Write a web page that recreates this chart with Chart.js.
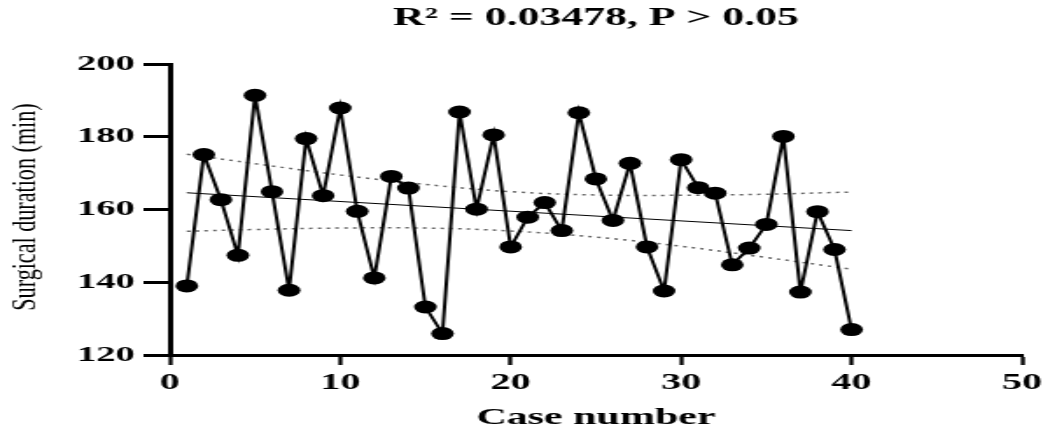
<!DOCTYPE html>
<html lang="en">
<head>
  <meta charset="UTF-8">
  <title>Surgical duration by case number</title>
  <script src="https://cdn.jsdelivr.net/npm/chart.js"></script>
  <style>
    html, body {
      margin: 0;
      padding: 0;
      background: #fff;
      overflow: hidden;
    }
    /* the source figure is stretched sideways, so draw it narrow and widen it */
    #wrap {
      width: 596px;
      height: 432px;
      transform: scaleX(1.75);
      transform-origin: 0 0;
    }
  </style>
</head>
<body>

  <div id="wrap"><canvas id="chart"></canvas></div>

  <script>
    // values
    const caseNo = [1, 2, 3, 4, 5, 6, 7, 8, 9, 10, 11, 12, 13, 14, 15, 16, 17, 18, 19, 20,
                    21, 22, 23, 24, 25, 26, 27, 28, 29, 30, 31, 32, 33, 34, 35, 36, 37, 38, 39, 40];
    const duration = [139.0, 175.1, 162.7, 147.4, 191.4, 164.9, 137.8, 179.5, 163.8, 187.9,
                      159.5, 141.2, 169.1, 165.9, 133.2, 125.9, 186.8, 160.1, 180.5, 149.7,
                      157.9, 161.9, 154.2, 186.6, 168.4, 157.0, 172.7, 149.7, 137.6, 173.7,
                      166.0, 164.5, 144.8, 149.4, 155.9, 180.1, 137.3, 159.4, 149.0, 127.0];

    // fitted line and its 95% band
    const fitX = [1, 40];
    const fitY = [164.6, 154.2];
    const bandX = [1, 5, 10, 15, 20, 25, 30, 35, 40];
    const bandUpper = [175.2, 172.6, 169.5, 166.9, 164.9, 164.0, 163.9, 164.2, 164.8];
    const bandLower = [154.0, 154.5, 154.9, 154.9, 154.1, 152.4, 149.9, 146.8, 143.6];

    const xTicks = [0, 10, 20, 30, 40, 50];
    const yTicks = [120, 140, 160, 180, 200];

    const serif = '"Liberation Serif", "Times New Roman", serif';

    function pairs(xs, ys) {
      return xs.map((x, i) => ({ x: x, y: ys[i] }));
    }

    // y axis title, tall and narrow like in the figure
    const yTitle = {
      id: 'yTitle',
      afterDraw(chart) {
        const ctx = chart.ctx;
        ctx.save();
        ctx.translate(15, 207);
        ctx.rotate(-Math.PI / 2);
        ctx.scale(1.23, 1);
        ctx.font = '18px ' + serif;
        ctx.fillStyle = '#000';
        ctx.textAlign = 'center';
        ctx.textBaseline = 'middle';
        ctx.fillText('Surgical duration (min)', 0, 0);
        ctx.restore();
      }
    };

    const ctx = document.getElementById('chart').getContext('2d');
    new Chart(ctx, {
      type: 'scatter',
      data: {
        datasets: [
          {
            label: 'Surgical duration',
            data: pairs(caseNo, duration),
            showLine: true,
            borderColor: '#000',
            borderWidth: 2,
            pointStyle: 'circle',
            pointRadius: 6.5,
            pointHoverRadius: 6.5,
            pointBackgroundColor: '#000',
            pointBorderWidth: 0
          },
          {
            label: 'Fit',
            data: pairs(fitX, fitY),
            showLine: true,
            borderColor: '#000',
            borderWidth: 1,
            pointRadius: 0
          },
          {
            label: 'Upper',
            data: pairs(bandX, bandUpper),
            showLine: true,
            borderColor: '#666',
            borderWidth: 1.5,
            borderDash: [2, 3],
            tension: 0.4,
            pointRadius: 0
          },
          {
            label: 'Lower',
            data: pairs(bandX, bandLower),
            showLine: true,
            borderColor: '#666',
            borderWidth: 1.5,
            borderDash: [2, 3],
            tension: 0.4,
            pointRadius: 0
          }
        ]
      },
      options: {
        responsive: true,
        maintainAspectRatio: false,
        animation: false,
        layout: { padding: { left: 0, right: 0, top: 0, bottom: 0 } },
        plugins: {
          legend: { display: false },
          tooltip: { enabled: false },
          title: {
            display: true,
            fullSize: false,
            text: 'R² = 0.03478, P > 0.05',
            color: '#000',
            font: { family: serif, size: 25, weight: 'bold' },
            padding: { top: 4, bottom: 30 }
          }
        },
        scales: {
          x: {
            type: 'linear',
            min: 0,
            max: 50,
            afterBuildTicks: s => { s.ticks = xTicks.map(v => ({ value: v })); },
            afterFit: s => { s.height = 77; s.paddingRight = 12; },
            grid: { drawOnChartArea: false, drawTicks: true, tickLength: 10, tickWidth: 2.3, tickColor: '#000' },
            border: { display: true, color: '#000', width: 3 },
            ticks: { color: '#000', font: { family: serif, size: 23, weight: 'bold' }, padding: 4, maxRotation: 0 },
            title: {
              display: true,
              text: 'Case number',
              color: '#000',
              font: { family: serif, size: 24, weight: 'bold' },
              padding: { top: 6, bottom: 0 }
            }
          },
          y: {
            type: 'linear',
            min: 120,
            max: 200,
            afterBuildTicks: s => { s.ticks = yTicks.map(v => ({ value: v })); },
            afterFit: s => { s.width = 97; },
            grid: { drawOnChartArea: false, drawTicks: true, tickLength: 15, tickWidth: 3, tickColor: '#000' },
            border: { display: true, color: '#000', width: 3 },
            ticks: { color: '#000', font: { family: serif, size: 22, weight: 'bold' }, padding: 5 }
          }
        }
      },
      plugins: [yTitle]
    });
  </script>
</body>
</html>
